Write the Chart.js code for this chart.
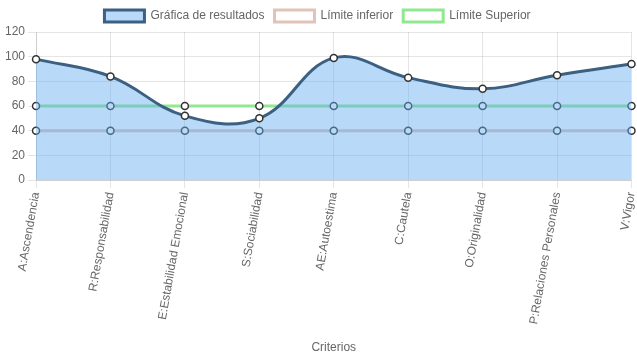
<!DOCTYPE html>
<html>
<head>
<meta charset="utf-8">
<script src="https://cdn.jsdelivr.net/npm/chart.js@4/dist/chart.umd.min.js"></script>
<style>
html,body{margin:0;padding:0;background:#fff;}
#wrap{width:637px;height:359px;}
</style>
</head>
<body>
<div id="wrap"><canvas id="c" width="637" height="359"></canvas></div>
<script>
const categories = ["A:Ascendencia","R:Responsabilidad","E:Estabilidad Emocional","S:Sociabilidad","AE:Autoestima","C:Cautela","O:Originalidad","P:Relaciones Personales","V:Vigor"];
const resultados = [98, 84, 52, 50, 99, 83, 74, 85, 94];
const limiteInferior = [40, 40, 40, 40, 40, 40, 40, 40, 40];
const limiteSuperior = [60, 60, 60, 60, 60, 60, 60, 60, 60];
const yTicks = [0, 20, 40, 60, 80, 100, 120];

Chart.defaults.font.family = 'Arial, "Liberation Sans", sans-serif';
Chart.defaults.font.size = 12;
Chart.defaults.color = '#666';

function lineSet(label, data, border, bg, fill) {
  return {
    label: label,
    data: data,
    borderColor: border,
    backgroundColor: bg,
    borderWidth: 3,
    fill: fill,
    tension: 0.4,
    pointRadius: 3.5,
    pointBorderWidth: 1.5,
    pointBorderColor: '#333',
    pointBackgroundColor: '#fff'
  };
}

new Chart(document.getElementById('c'), {
  type: 'line',
  data: {
    labels: categories,
    datasets: [
      lineSet('Gráfica de resultados', resultados, 'rgba(60,96,130,1)', 'rgba(100,170,240,0.45)', 'origin'),
      lineSet('Límite inferior', limiteInferior, 'rgba(225,195,185,1)', '#fff', false),
      lineSet('Límite Superior', limiteSuperior, 'rgba(144,232,144,1)', '#fff', false)
    ]
  },
  options: {
    responsive: false,
    animation: false,
    devicePixelRatio: 1,
    layout: { padding: { left: 2, right: 4 } },
    plugins: {
      legend: {
        position: 'top',
        labels: { boxWidth: 40, boxHeight: 12, color: '#666' }
      },
      tooltip: { enabled: false }
    },
    scales: {
      x: {
        title: { display: true, text: 'Criterios', color: '#666' },
        ticks: { minRotation: 80, maxRotation: 80, color: '#666' },
        grid: { color: 'rgba(0,0,0,0.1)' },
        afterFit: function (scale) {
          scale.paddingRight = 0;
          scale.paddingLeft = 0;
          scale.height = 179;
        }
      },
      y: {
        min: yTicks[0],
        max: yTicks[yTicks.length - 1],
        ticks: { stepSize: yTicks[1] - yTicks[0], color: '#666' },
        grid: { color: 'rgba(0,0,0,0.1)' }
      }
    }
  }
});
</script>
</body>
</html>
